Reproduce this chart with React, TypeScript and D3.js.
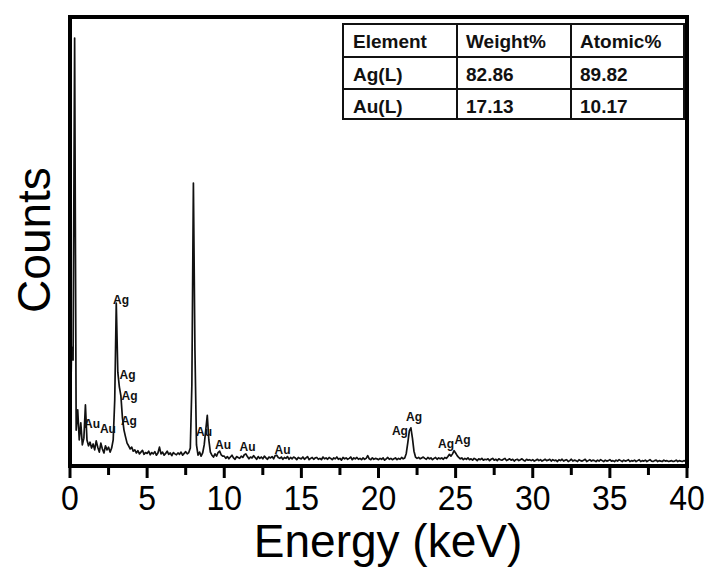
import React from "react";
import * as d3 from "d3";

const WIDTH = 709;
const HEIGHT = 570;
const PLOT = { left: 70, right: 687, top: 17, bottom: 466 };

// spectrum: counts sampled every 0.1 keV starting at 0 keV
const ENERGY_STEP = 0.1;
const COUNTS = [
  24, 265, 236, 953, 80, 125, 58, 96, 47, 62,
  136, 58, 45, 53, 40, 49, 36, 56, 42, 31,
  51, 38, 29, 45, 36, 42, 31, 40, 58, 147,
  363, 209, 176, 156, 107, 80, 65, 51, 45, 38,
  42, 33, 36, 29, 34, 27, 31, 35, 26, 30,
  28, 33, 25, 30, 27, 32, 24, 29, 42, 27,
  31, 24, 28, 33, 26, 29, 23, 30, 27, 25,
  29, 26, 31, 24, 28, 32, 27, 30, 40, 180,
  630, 258, 47, 24, 31, 22, 29, 47, 80, 113,
  58, 31, 24, 20, 27, 22, 30, 33, 25, 22,
  22, 17, 21, 16, 20, 24, 18, 15, 21, 19,
  17, 22, 19, 25, 27, 21, 16, 20, 18, 23,
  19, 15, 21, 17, 20, 16, 22, 18, 15, 20,
  18, 21, 16, 23, 24, 19, 17, 20, 15, 19,
  17, 21, 15, 19, 16, 20, 18, 14, 19, 17,
  16, 20, 15, 18, 21, 14, 17, 19, 15, 18,
  19, 15, 17, 14, 20, 16, 18, 15, 19, 17,
  14, 18, 16, 20, 15, 17, 13, 19, 16, 18,
  15, 17, 20, 14, 18, 16, 19, 15, 17, 14,
  18, 15, 17, 23, 16, 14, 18, 15, 17, 16,
  14, 17, 15, 18, 13, 16, 19, 15, 17, 14,
  16, 18, 14, 17, 15, 19, 16, 18, 28, 52,
  78, 85, 62, 33, 20, 17, 19, 16, 18, 20,
  17, 15, 19, 16, 18, 14, 17, 19, 15, 18,
  16, 18, 15, 19, 17, 21, 26, 22, 27, 34,
  29, 23, 19, 16, 18, 14, 17, 15, 18, 14,
  16, 13, 17, 15, 12, 16, 14, 17, 13, 15,
  14, 16, 12, 15, 17, 13, 15, 12, 16, 14,
  13, 15, 17, 12, 14, 16, 13, 15, 11, 14,
  15, 12, 14, 16, 13, 11, 15, 13, 14, 12,
  14, 11, 13, 15, 12, 14, 11, 13, 15, 12,
  13, 15, 11, 14, 12, 13, 10, 14, 12, 15,
  11, 13, 14, 10, 12, 15, 11, 13, 12, 10,
  14, 12, 11, 13, 15, 10, 12, 14, 11, 13,
  12, 10, 13, 11, 14, 12, 10, 13, 11, 12,
  14, 11, 12, 10, 13, 11, 14, 12, 10, 13,
  11, 12, 14, 10, 12, 11, 13, 10, 12, 14,
  10, 12, 11, 13, 10, 12, 14, 11, 10, 12,
  13, 10, 12, 11, 10, 13, 11, 12, 10, 11,
  12, 10, 11, 13, 10, 12, 11, 10, 12, 11,
  10,
];

// peak labels, placed in data units (energy keV, counts)
const PEAK_LABELS = ["Ag", "Ag", "Ag", "Ag", "Au", "Au", "Au", "Au", "Au", "Au", "Ag", "Ag", "Ag", "Ag"];
const PEAK_ENERGY = [3.31, 3.73, 3.86, 3.82, 1.43, 2.46, 8.69, 9.92, 11.51, 13.78, 21.39, 22.3, 24.38, 25.45];
const PEAK_COUNT = [361, 194, 147, 91, 85, 73, 67, 38, 33, 27, 69, 100, 40, 49];

const X_TICKS = [0, 5, 10, 15, 20, 25, 30, 35, 40];
const X_MINOR = [2.5, 7.5, 12.5, 17.5, 22.5, 27.5, 32.5, 37.5];

// composition table
const TABLE_HEADER = ["Element", "Weight%", "Atomic%"];
const ELEMENTS = ["Ag(L)", "Au(L)"];
const WEIGHT_PCT = ["82.86", "17.13"];
const ATOMIC_PCT = ["89.82", "10.17"];

const FONT = "'Liberation Sans', Arial, Helvetica, sans-serif";

export default function App() {
  const x = d3.scaleLinear().domain([0, 40]).range([PLOT.left, PLOT.right]);
  const y = d3.scaleLinear().domain([0, 1000]).range([PLOT.bottom, PLOT.top]);

  const data = COUNTS.map((c, i) => ({ e: i * ENERGY_STEP, c }));
  const line = d3
    .line<{ e: number; c: number }>()
    .x((d) => x(d.e))
    .y((d) => y(d.c));

  // table layout
  const colX = [343, 457, 571, 684];
  const rowY = [24, 57, 89, 119];
  const rows = [TABLE_HEADER, ...ELEMENTS.map((el, i) => [el, WEIGHT_PCT[i], ATOMIC_PCT[i]])];

  return (
    <svg
      width={WIDTH}
      height={HEIGHT}
      style={{ position: "absolute", left: 0, top: 0, background: "#fff" }}
      fontFamily={FONT}
    >
      <rect width={WIDTH} height={HEIGHT} fill="#fff" />

      {/* spectrum */}
      <path d={line(data) || ""} fill="none" stroke="#111" strokeWidth={1.7} strokeLinejoin="round" />

      {/* peak labels */}
      {PEAK_LABELS.map((t, i) => (
        <text
          key={i}
          x={x(PEAK_ENERGY[i])}
          y={y(PEAK_COUNT[i])}
          fontSize={12}
          fontWeight="bold"
          textAnchor="middle"
          fill="#111"
        >
          {t}
        </text>
      ))}

      {/* frame */}
      <rect
        x={PLOT.left}
        y={PLOT.top}
        width={PLOT.right - PLOT.left}
        height={PLOT.bottom - PLOT.top}
        fill="none"
        stroke="#000"
        strokeWidth={4}
      />

      {/* x ticks */}
      {X_TICKS.map((t) => (
        <g key={t}>
          <line x1={x(t)} x2={x(t)} y1={PLOT.bottom} y2={PLOT.bottom + 12} stroke="#000" strokeWidth={3} />
          <text
            x={x(t)}
            y={0}
            fontSize={32}
            textAnchor="middle"
            transform={`translate(0, 510) scale(1, 1.1)`}
          >
            {t}
          </text>
        </g>
      ))}
      {X_MINOR.map((t) => (
        <line key={t} x1={x(t)} x2={x(t)} y1={PLOT.bottom} y2={PLOT.bottom + 9} stroke="#000" strokeWidth={3} />
      ))}

      {/* axis titles */}
      <text x={388} y={557} fontSize={46} textAnchor="middle">
        Energy (keV)
      </text>
      <text transform="translate(50, 240) rotate(-90)" fontSize={46} textAnchor="middle">
        Counts
      </text>

      {/* table */}
      <g>
        <rect
          x={colX[0]}
          y={rowY[0]}
          width={colX[3] - colX[0]}
          height={rowY[3] - rowY[0]}
          fill="#fff"
          stroke="#111"
          strokeWidth={2}
        />
        {rowY.slice(1, 3).map((ry) => (
          <line key={ry} x1={colX[0]} x2={colX[3]} y1={ry} y2={ry} stroke="#111" strokeWidth={2} />
        ))}
        {colX.slice(1, 3).map((cx) => (
          <line key={cx} x1={cx} x2={cx} y1={rowY[0]} y2={rowY[3]} stroke="#111" strokeWidth={2} />
        ))}
        {rows.map((r, ri) =>
          r.map((cell, ci) => (
            <text
              key={`${ri}-${ci}`}
              x={colX[ci] + (ci === 0 ? 10 : 9)}
              y={rowY[ri] + 24}
              fontSize={19}
              fontWeight="bold"
              fill="#111"
            >
              {cell}
            </text>
          ))
        )}
      </g>
    </svg>
  );
}
